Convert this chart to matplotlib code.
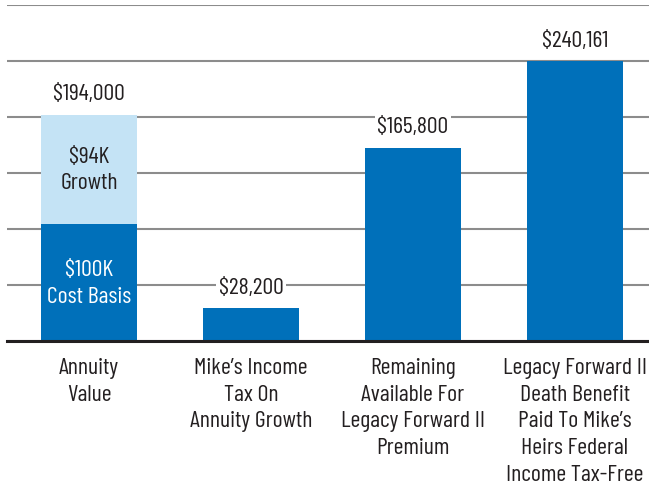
import matplotlib
matplotlib.use("Agg")
import matplotlib.pyplot as plt
import numpy as np
from matplotlib import font_manager
from matplotlib.font_manager import FontProperties
from matplotlib.textpath import TextPath

categories = ["Annuity\nValue",
              "Mike\u2019s Income\nTax On\nAnnuity Growth",
              "Remaining\nAvailable For\nLegacy Forward II\nPremium",
              "Legacy Forward II\nDeath Benefit\nPaid To Mike\u2019s\nHeirs Federal\nIncome Tax-Free"]
base_values = [100000, 28200, 165800, 240161]
growth_values = [94000, 0, 0, 0]
value_labels = ["$194,000", "$28,200", "$165,800", "$240,161"]
inner_labels = ["$100K\nCost Basis", "$94K\nGrowth"]

# ---- pick a condensed humanist font close to the reference's proportions
CAP_PX = 16.7          # cap height in the reference
TARGET_RATIO = 127 / CAP_PX   # width of "Legacy Forward II" / cap height
candidates = ["PT Sans Narrow", "Fira Sans Extra Condensed", "Roboto Condensed",
              "Barlow Condensed", "Sofia Sans Condensed", "Asap Condensed",
              "Fira Sans Condensed"]
best = None
for fam in candidates:
    try:
        font_manager.findfont(FontProperties(family=fam), fallback_to_default=False)
    except Exception:
        continue
    fp = FontProperties(family=fam)
    cap = TextPath((0, 0), "H", size=1, prop=fp).get_extents().ymax
    wid = TextPath((0, 0), "Legacy Forward II", size=1, prop=fp).get_extents().width
    r = wid / cap
    if best is None or abs(r - TARGET_RATIO) < best[0] - 0.02:
        best = (abs(r - TARGET_RATIO), fam, cap)
if best is None:
    best = (0, "DejaVu Sans", 0.73)
_, FAM, CAP_EM = best
plt.rcParams['font.family'] = [FAM, 'DejaVu Sans']

em_px = CAP_PX / CAP_EM
fs = em_px * 72 / 100
fp = FontProperties(family=FAM)
asc = TextPath((0, 0), "l", size=1, prop=fp).get_extents().ymax * em_px
desc = -TextPath((0, 0), "p", size=1, prop=fp).get_extents().ymin * em_px
ls = (27.4 - desc) / asc
pad_px = 15.7 - (asc - CAP_PX)

dark = "#0070ba"
light = "#c4e3f5"
txtc = "#231f20"

fig = plt.figure(figsize=(6.49, 4.89), dpi=100)
ax = fig.add_axes([0.0108, 0.3006, 0.9892, 0.687])

x = np.arange(len(categories))
ymax = 288000
ax.set_ylim(0, ymax)
ax.set_xlim(-0.506, 3.457)
ax.set_yticks(np.linspace(0, ymax, 7))
ax.yaxis.grid(True, color="#8c8c8c", linewidth=1.5)
ax.set_axisbelow(True)
ax.tick_params(axis='y', left=False, labelleft=False)
ax.tick_params(axis='x', bottom=False, length=0, pad=max(pad_px, 0) * 0.72)
for s in ["top", "right", "left"]:
    ax.spines[s].set_visible(False)
ax.spines["bottom"].set_color(txtc)
ax.spines["bottom"].set_linewidth(2.2)

w = 0.59
ax.bar(x, base_values, width=w, color=dark, zorder=2)
ax.bar(x, growth_values, bottom=base_values, width=w, color=light, zorder=2)

totals = [b + g for b, g in zip(base_values, growth_values)]
for xi, t, lab in zip(x, totals, value_labels):
    ax.annotate(lab, (xi, t), xytext=(0, 11), textcoords="offset points",
                ha="center", va="baseline", fontsize=fs, color=txtc,
                bbox=dict(facecolor="white", edgecolor="none", pad=2))

ax.text(x[0], base_values[0] / 2, inner_labels[0], ha="center", va="center",
        color="white", fontsize=fs, linespacing=ls, zorder=3)
ax.text(x[0], base_values[0] + growth_values[0] / 2, inner_labels[1], ha="center",
        va="center", color=txtc, fontsize=fs, linespacing=ls, zorder=3)

ax.set_xticks(x)
ax.set_xticklabels(categories, fontsize=fs, linespacing=ls, color=txtc, va="top")

fig.savefig("out.png", dpi=100)
